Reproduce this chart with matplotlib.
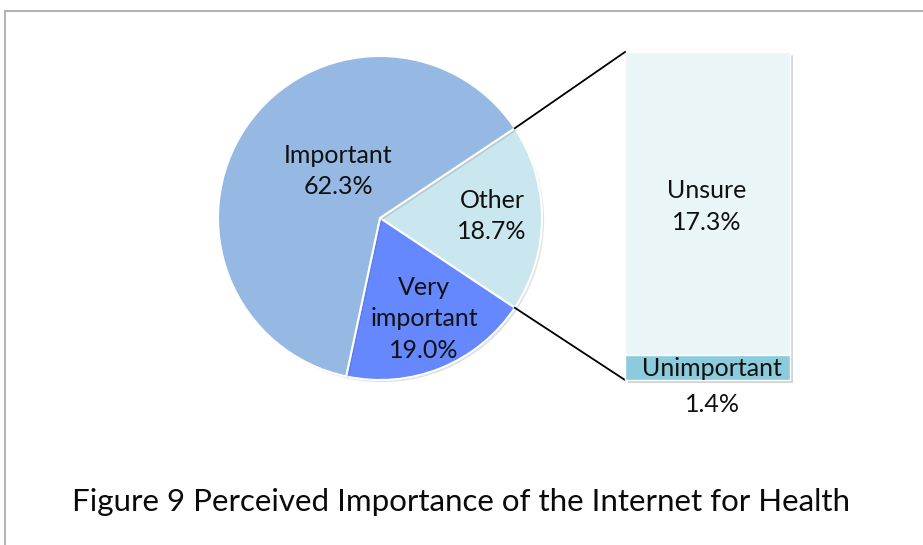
import matplotlib
matplotlib.use("Agg")
import matplotlib.pyplot as plt
import matplotlib.patheffects as pe
import numpy as np

plt.rcParams['font.family'] = ['Lato', 'DejaVu Sans']

# pie slices (clockwise from the split-off slice)
pie_labels = ['Other', 'Very\nimportant', 'Important']
pie_values = [18.7, 19.0, 62.3]
pie_colors = ['#cae7ef', '#6688ff', '#96b9e4']

# breakdown of "Other" into the stacked bar (bottom to top)
bar_labels = ['Unimportant', 'Unsure']
bar_values = [1.4, 17.3]
bar_colors = ['#8ccbdb', '#eaf5f7']

caption = 'Figure 9 Perceived Importance of the Internet for Health'

W, H = 923, 545
fig = plt.figure(figsize=(W / 100, H / 100), dpi=100)
ax = fig.add_axes([0, 0, 1, 1])

cx, cy, r = 380, 327, 162
start = pie_values[0] / 2 * 3.6
wedges, _ = ax.pie(pie_values, colors=pie_colors, startangle=start,
                   counterclock=False, center=(cx, cy), radius=r,
                   wedgeprops=dict(edgecolor='white', linewidth=1.5))
for w in wedges:
    w.set_path_effects([pe.SimplePatchShadow(offset=(1.5, -1.5), alpha=0.15), pe.Normal()])

ax.set_xlim(0, W)
ax.set_ylim(0, H)
ax.set_aspect('equal')
ax.axis('off')

# page frame
ax.plot([5, W], [H - 11, H - 11], color='#b4b4b4', lw=1.5)
ax.plot([5, 5], [0, H - 11], color='#b4b4b4', lw=1.5)

fs = 18
# labels inside slices
label_pos = [(492, 329), (424, 226), (338, 374)]
for name, val, (lx, ly) in zip(pie_labels, pie_values, label_pos):
    ax.text(lx, ly, f'{name}\n{val:.1f}%', ha='center', va='center',
            fontsize=fs, linespacing=1.45, color='#111111')

# stacked bar for "Other"
bar_x0, bar_x1 = 625, 790
bar_bottom, bar_top = 165, 493
scale = (bar_top - bar_bottom) / sum(bar_values)
heights = [v * scale for v in bar_values]
bottoms = [bar_bottom, bar_bottom + heights[0]]
bars = ax.bar([(bar_x0 + bar_x1) / 2] * 2, heights, bottom=bottoms,
              width=bar_x1 - bar_x0, color=bar_colors, edgecolor='white',
              linewidth=1.0)
bars[1].set_path_effects([pe.SimplePatchShadow(offset=(2.5, -2.5), alpha=0.22), pe.Normal()])
bars[0].set_path_effects([pe.SimplePatchShadow(offset=(2.5, -2.5), alpha=0.22), pe.Normal()])
bars[0].set_zorder(3)

ax.text(707, bottoms[1] + heights[1] * 0.49, f'{bar_labels[1]}\n{bar_values[1]:.1f}%',
        ha='center', va='center', fontsize=fs, linespacing=1.45, color='#111111')
ax.text(712, bottoms[0] + heights[0] / 2 - 1, bar_labels[0], ha='center', va='center',
        fontsize=fs, color='#111111', zorder=4)
ax.text(712, bar_bottom - 24, f'{bar_values[0]:.1f}%', ha='center', va='center',
        fontsize=fs, color='#111111')

# connector lines from the split-off slice to the bar
for ang, by in [(start, bar_top), (-start, bar_bottom)]:
    t = np.radians(ang)
    ax.plot([cx + r * np.cos(t), bar_x0], [cy + r * np.sin(t), by], color='black', lw=1.3)

ax.text(461, H - 502, caption, ha='center', va='center', fontsize=22.5, color='#0a0a0a')

fig.savefig('out.png', dpi=100)
